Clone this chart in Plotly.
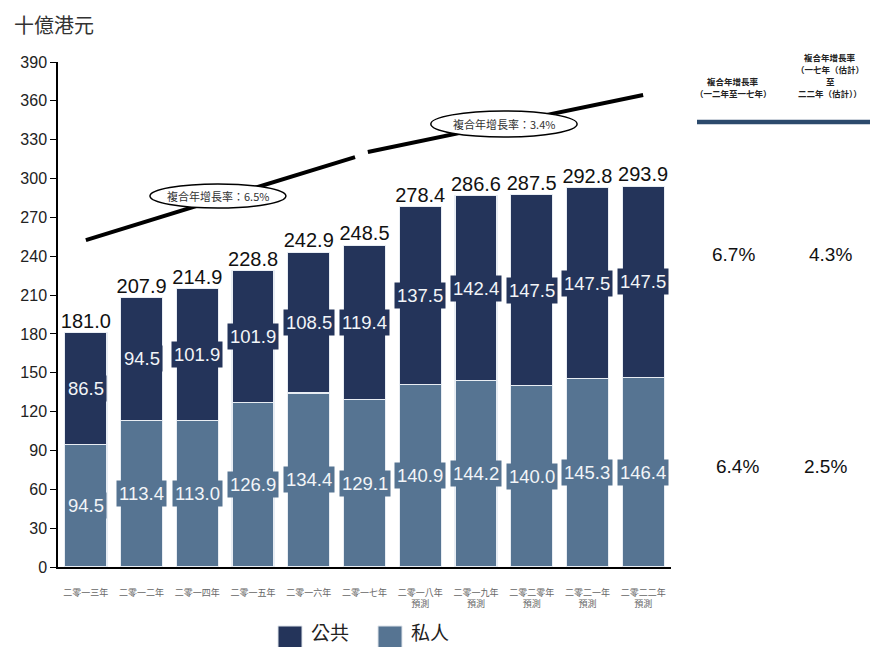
import plotly.graph_objects as go

# ---- data ----
categories = ["二零一三年", "二零一二年", "二零一四年", "二零一五年", "二零一六年", "二零一七年",
              "二零一八年<br>預測", "二零一九年<br>預測", "二零二零年<br>預測",
              "二零二一年<br>預測", "二零二二年<br>預測"]
private_vals = [94.5, 113.4, 113.0, 126.9, 134.4, 129.1, 140.9, 144.2, 140.0, 145.3, 146.4]
public_vals = [86.5, 94.5, 101.9, 101.9, 108.5, 119.4, 137.5, 142.4, 147.5, 147.5, 147.5]
totals = [181.0, 207.9, 214.9, 228.8, 242.9, 248.5, 278.4, 286.6, 287.5, 292.8, 293.9]
y_ticks = list(range(0, 391, 30))

cagr_hist_label = "複合年增長率：6.5%"
cagr_fcst_label = "複合年增長率：3.4%"
# trend segments (category index, value)
trend_hist = ([0, 4.83], [252.5, 316.6])
trend_fcst = ([5.06, 10], [320.5, 364.5])

side_headers = [["複合年增長率", "（一二年至一七年）"],
                ["複合年增長率", "（一七年（估計）", "至", "二二年（估計））"]]
side_public = ["6.7%", "4.3%"]
side_private = ["6.4%", "2.5%"]

PUBLIC = "#24345a"
PRIVATE = "#567492"
CJK = "Noto Sans CJK TC"
LAT = "Liberation Sans, Arial"

# plot-area geometry in pixels (for paper-coordinate helpers)
L, R, T, B = 58, 199, 62, 80
W, H = 870, 647
PW, PH = W - L - R, H - T - B


def px(xp):
    return (xp - L) / PW


def py(yp):
    return (H - B - yp) / PH


fig = go.Figure()
fig.add_bar(x=categories, y=private_vals, name="私人", marker_color=PRIVATE,
            marker_line=dict(color="#e8edf3", width=1.2), showlegend=False)
fig.add_bar(x=categories, y=public_vals, name="公共", marker_color=PUBLIC,
            marker_line=dict(color="#e8edf3", width=1.2), showlegend=False)

# totals above the stacks
fig.add_scatter(x=categories, y=totals, mode="text",
                text=[f"{v:.1f}" for v in totals], textposition="top center",
                textfont=dict(family=LAT, size=20, color="#111"), showlegend=False,
                hoverinfo="skip")

annotations = []
# segment labels with boxes in the segment colour
for i, c in enumerate(categories):
    annotations.append(dict(x=c, y=private_vals[i] / 2, xref="x", yref="y",
                            text=f"{private_vals[i]:.1f}", showarrow=False,
                            font=dict(family=LAT, size=18.5, color="#f2f5f8"),
                            bgcolor=PRIVATE, borderpad=2))
    annotations.append(dict(x=c, y=private_vals[i] + public_vals[i] / 2, xref="x", yref="y",
                            text=f"{public_vals[i]:.1f}", showarrow=False,
                            font=dict(family=LAT, size=18.5, color="#f2f5f8"),
                            bgcolor=PUBLIC, borderpad=2))

shapes = []
# CAGR trend lines
for xs, ys in (trend_hist, trend_fcst):
    shapes.append(dict(type="line", xref="x", yref="y", x0=xs[0], x1=xs[1],
                       y0=ys[0], y1=ys[1], line=dict(color="#000", width=4)))
# ellipses holding the CAGR labels
ellipses = [((1.15, 3.59, 277.2, 295.8), cagr_hist_label),
            ((6.19, 8.815, 332.1, 352.1), cagr_fcst_label)]
for (x0, x1, y0, y1), lab in ellipses:
    shapes.append(dict(type="circle", xref="x", yref="y", x0=x0, x1=x1, y0=y0, y1=y1,
                       fillcolor="white", line=dict(color="#000", width=1.5)))
    annotations.append(dict(x=(x0 + x1) / 2, y=(y0 + y1) / 2, xref="x", yref="y",
                            text=lab, showarrow=False, xanchor="center", yanchor="middle",
                            font=dict(family=CJK, size=11, color="#333")))

# unit title
annotations.append(dict(x=px(12), y=py(25), xref="paper", yref="paper", text="十億港元",
                        showarrow=False, xanchor="left", yanchor="middle",
                        font=dict(family=CJK, size=20, color="#333")))

# side table: headers (bottom-aligned, one line per annotation)
side_x = [733, 830]
LINE_STEP = 12
for j in range(2):
    lines = side_headers[j]
    for k, txt in enumerate(lines):
        yc = 93 - LINE_STEP * (len(lines) - 1 - k)
        annotations.append(dict(x=px(side_x[j]), y=py(yc), xref="paper", yref="paper",
                                text=f"<b>{txt}</b>", showarrow=False,
                                xanchor="center", yanchor="middle",
                                font=dict(family=CJK, size=8.5, color="#222")))
shapes.append(dict(type="line", xref="paper", yref="paper", x0=px(697), x1=px(870),
                   y0=py(122), y1=py(122), line=dict(color="#2c4a6c", width=4.5)))
for j in range(2):
    annotations.append(dict(x=px(side_x[j]), y=py(254), xref="paper", yref="paper",
                            text=side_public[j], showarrow=False,
                            xanchor="center", yanchor="middle",
                            font=dict(family=LAT, size=19, color="#111")))
    annotations.append(dict(x=px(side_x[j] + (4 if j == 0 else -4)), y=py(466),
                            xref="paper", yref="paper",
                            text=side_private[j], showarrow=False,
                            xanchor="center", yanchor="middle",
                            font=dict(family=LAT, size=19, color="#111")))

# legend drawn below the axis
legend_items = [("公共", PUBLIC, 278), ("私人", PRIVATE, 378)]
for name, col, x0 in legend_items:
    shapes.append(dict(type="rect", xref="paper", yref="paper", x0=px(x0), x1=px(x0 + 24),
                       y0=py(649), y1=py(626), fillcolor=col, line=dict(color="#dde3ea", width=1)))
    annotations.append(dict(x=px(x0 + 31), y=py(631), xref="paper", yref="paper",
                            text=name, showarrow=False, xanchor="left", yanchor="middle",
                            font=dict(family=CJK, size=19, color="#222")))

fig.update_layout(
    barmode="stack", bargap=0.245,
    width=W, height=H, margin=dict(l=L, r=R, t=T, b=B),
    plot_bgcolor="white", paper_bgcolor="white",
    shapes=shapes, annotations=annotations,
    xaxis=dict(type="category", showline=True, linecolor="#000", linewidth=1.5,
               ticks="", showgrid=False, range=[-0.5, 10.5],
               tickfont=dict(family=CJK, size=9, color="#666"), ticklabelstandoff=16),
    yaxis=dict(range=[0, 390], tickvals=y_ticks, showline=True, linecolor="#000",
               linewidth=1.5, ticks="outside", ticklen=6, tickcolor="#000",
               showgrid=False, zeroline=False,
               tickfont=dict(family=LAT, size=16, color="#222")),
)

fig.write_html("out.html")
